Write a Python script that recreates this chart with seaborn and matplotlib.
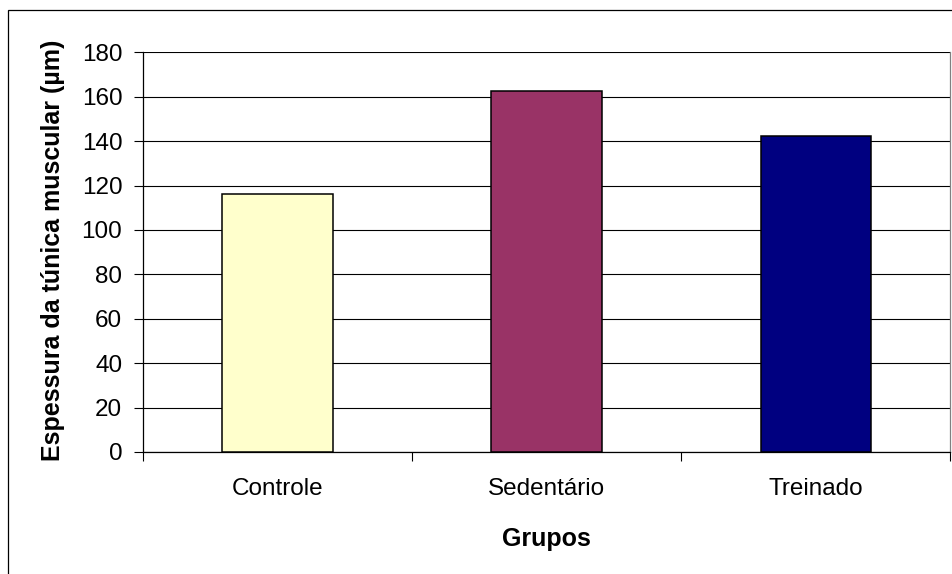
import pandas as pd
import seaborn as sns
import matplotlib.pyplot as plt
from matplotlib.patches import Rectangle
from matplotlib.ticker import FixedLocator

# dados
grupos = ["Controle", "Sedentário", "Treinado"]
espessura = [116, 162.7, 142.2]
cores = ["#FFFFCC", "#993366", "#000080"]
y_ticks = [0, 20, 40, 60, 80, 100, 120, 140, 160, 180]

df = pd.DataFrame({"Grupos": grupos, "Espessura": espessura})

sns.set_style("white")
plt.rcParams["font.family"] = ["Liberation Sans", "DejaVu Sans"]
plt.rcParams["text.color"] = "black"
plt.rcParams["xtick.color"] = "black"
plt.rcParams["ytick.color"] = "black"
plt.rcParams["xtick.labelcolor"] = "black"
plt.rcParams["ytick.labelcolor"] = "black"

fig = plt.figure(figsize=(9.53, 5.74), dpi=100)
ax = fig.add_axes([142.7 / 953, 1 - 452 / 574, (950.5 - 142.7) / 953, (452 - 52.3) / 574])

sns.barplot(data=df, x="Grupos", y="Espessura", hue="Grupos", palette=cores,
            width=0.41, edgecolor="black", linewidth=1.1, legend=False,
            saturation=1, zorder=3, ax=ax)

ax.set_xlim(-0.5, 2.5)
ax.set_ylim(0, 180)
ax.set_yticks(y_ticks)
ax.yaxis.grid(True, color="black", linewidth=0.8, zorder=0)
ax.set_axisbelow(True)

# ticks
ax.tick_params(axis="y", direction="out", length=6.2, width=0.8, color="black",
               labelsize=17.5, pad=8.5, left=True, labelcolor="black")
ax.xaxis.set_minor_locator(FixedLocator([-0.5, 0.5, 1.5, 2.5]))
ax.tick_params(axis="x", which="major", length=0, labelsize=17.5, pad=19,
               labelcolor="black")
ax.tick_params(axis="x", which="minor", direction="out", length=6.2, width=0.8,
               color="black", bottom=True)

for s in ["left", "bottom"]:
    ax.spines[s].set_color("black")
    ax.spines[s].set_linewidth(0.9)
ax.spines["top"].set_visible(False)
ax.spines["right"].set_color("#808080")
ax.spines["right"].set_linewidth(0.9)

ax.set_xlabel("")
ax.set_ylabel("")
fig.text(53 / 953, 1 - 250 / 574, "Espessura da túnica muscular (µm)", rotation=90,
         ha="center", va="center", fontsize=18, fontweight="bold", color="black")
fig.text(546.6 / 953, 1 - 539 / 574, "Grupos", ha="center", va="center",
         fontsize=18, fontweight="bold", color="black")

# borda externa
fig.patches.append(Rectangle((8 / 953, -0.1), 1.2, 1.1 - 10.3 / 574,
                             transform=fig.transFigure, fill=False,
                             edgecolor="black", linewidth=0.9))

fig.savefig("out.png", dpi=100)
